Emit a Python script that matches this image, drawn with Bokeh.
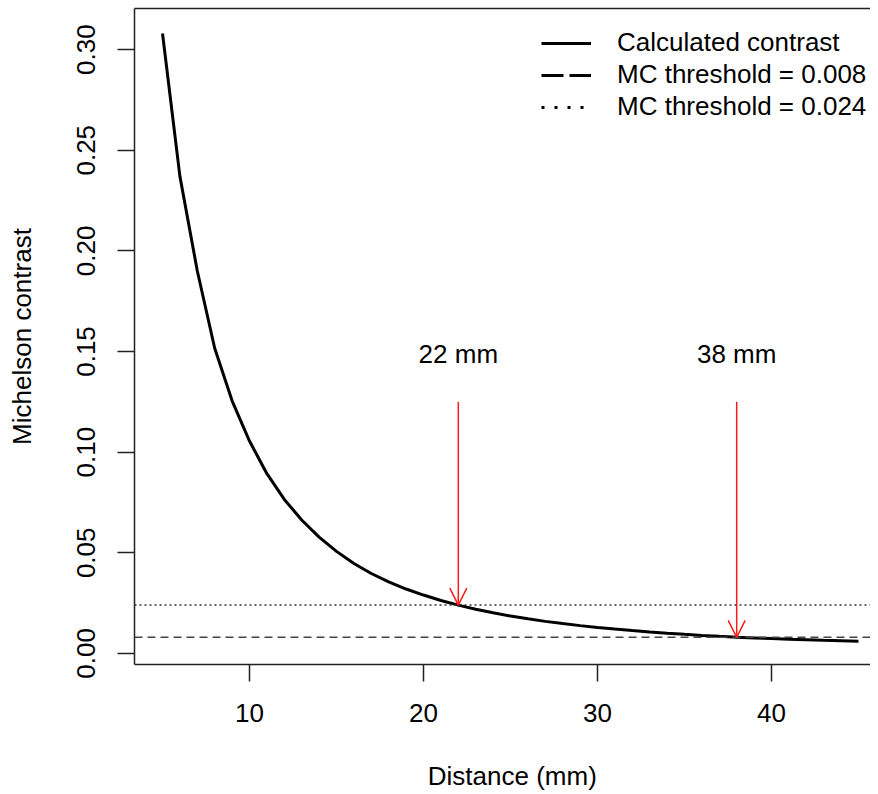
from bokeh.plotting import figure
from bokeh.models import (Range1d, FixedTicker, PrintfTickFormatter, LinearAxis,
                          Arrow, OpenHead, ColumnDataSource, Legend, LegendItem, Span)
from bokeh.embed import file_html
from bokeh.resources import INLINE
from bokeh.core.properties import value

# ---- data ----
distance_mm = [5, 6, 7, 8, 9, 10, 11, 12, 13, 14, 15, 16, 17, 18, 19, 20, 21, 22, 23, 24,
               25, 26, 27, 28, 29, 30, 31, 32, 33, 34, 35, 36, 37, 38, 39, 40, 41, 42, 43, 44, 45]
contrast = [0.308, 0.237, 0.190, 0.1516, 0.1255, 0.1055, 0.0893, 0.0765, 0.0663, 0.0578,
            0.0507, 0.0447, 0.0397, 0.0355, 0.0320, 0.0290, 0.0263, 0.0240, 0.02196, 0.02017,
            0.01859, 0.01718, 0.01593, 0.01482, 0.01381, 0.01291, 0.01209, 0.01134, 0.01067,
            0.01005, 0.00948, 0.00896, 0.00849, 0.00804, 0.00770, 0.00738, 0.00709, 0.00682,
            0.00656, 0.00632, 0.00610]
threshold_low = 0.008
threshold_high = 0.024
arrow_x = [22, 38]
arrow_top = [0.125, 0.125]
arrow_bottom = [0.024, 0.008]
arrow_labels = ["22 mm", "38 mm"]
arrow_label_y = [0.149, 0.149]
x_ticks = [10, 20, 30, 40]
y_ticks = [0.00, 0.05, 0.10, 0.15, 0.20, 0.25, 0.30]
legend_labels = ["Calculated contrast", "MC threshold = 0.008", "MC threshold = 0.024"]

FONT = "Liberation Sans"
FS = "26px"
AX = "#222222"

p = figure(width=870, height=794, output_backend="svg", toolbar_location=None,
           x_range=Range1d(3.39, 45.69), y_range=Range1d(-0.0055, 0.3204),
           min_border_left=134, min_border_right=0, min_border_top=8, min_border_bottom=130,
           x_axis_label="\u00a0\u00a0\u2009Distance (mm)", y_axis_label="Michelson contrast")
p.outline_line_color = None
p.grid.visible = False
p.background_fill_color = "white"
p.border_fill_color = "white"

for ax in (p.xaxis[0], p.yaxis[0]):
    ax.axis_line_color = AX
    ax.axis_line_width = 1.5
    ax.major_tick_line_color = AX
    ax.major_tick_line_width = 1.5
    ax.major_tick_out = 17
    ax.major_tick_in = 0
    ax.minor_tick_line_color = None
    ax.major_label_text_font = FONT
    ax.major_label_text_font_size = FS
    ax.major_label_text_color = "black"
    ax.axis_label_text_font = FONT
    ax.axis_label_text_font_size = FS
    ax.axis_label_text_font_style = "normal"
    ax.axis_label_text_color = "black"

p.xaxis[0].ticker = FixedTicker(ticks=x_ticks)
p.xaxis[0].major_label_standoff = 22
p.xaxis[0].axis_label_standoff = 36

p.yaxis[0].ticker = FixedTicker(ticks=y_ticks)
p.yaxis[0].formatter = PrintfTickFormatter(format="%.2f")
p.yaxis[0].major_label_orientation = "vertical"
p.yaxis[0].major_label_standoff = 22
p.yaxis[0].axis_label_standoff = 38

top_axis = LinearAxis(ticker=FixedTicker(ticks=[]), axis_line_color=AX, axis_line_width=1.5,
                      major_tick_line_color=None, minor_tick_line_color=None,
                      major_label_standoff=0, major_tick_out=0, major_tick_in=0)
p.add_layout(top_axis, "above")

# threshold lines
p.add_layout(Span(location=threshold_high, dimension="width", line_color="#333333",
                  line_width=1.5, line_dash="2 3"))
p.add_layout(Span(location=threshold_low, dimension="width", line_color="#444444",
                  line_width=1.5, line_dash="8 5"))

# main curve
p.line(distance_mm, contrast, line_color="black", line_width=3)

# arrows
asrc = ColumnDataSource(dict(x0=arrow_x, y0=arrow_top, x1=arrow_x, y1=arrow_bottom))
p.add_layout(Arrow(source=asrc, x_start="x0", y_start="y0", x_end="x1", y_end="y1",
                   line_color="#ff1a1a", line_width=1.5,
                   end=OpenHead(size=17, line_color="#ff1a1a", line_width=1.5)))

p.text(x=arrow_x, y=arrow_label_y, text=arrow_labels, text_font=value(FONT),
       text_font_size=FS, text_align="center", text_baseline="middle", text_color="black")

# legend sample renderers (hidden, only used for legend glyphs)
r1 = p.line(distance_mm, contrast, line_color="black", line_width=3, visible=False)
r2 = p.line(distance_mm, contrast, line_color="black", line_width=3, line_dash="22 6", visible=False)
r3 = p.line(distance_mm, contrast, line_color="black", line_width=3, line_dash="3 10", visible=False)

legend = Legend(items=[LegendItem(label=legend_labels[0], renderers=[r1]),
                       LegendItem(label=legend_labels[1], renderers=[r2]),
                       LegendItem(label=legend_labels[2], renderers=[r3])],
                location=(407, 542), padding=0, margin=0, spacing=1,
                glyph_width=50, glyph_height=20, label_standoff=26,
                label_text_font=FONT, label_text_font_size=FS, label_text_color="black",
                border_line_color=None, background_fill_alpha=0,
                inactive_fill_alpha=0, click_policy="none")
p.add_layout(legend, "center")

open("out.html", "w").write(file_html(p, INLINE))
